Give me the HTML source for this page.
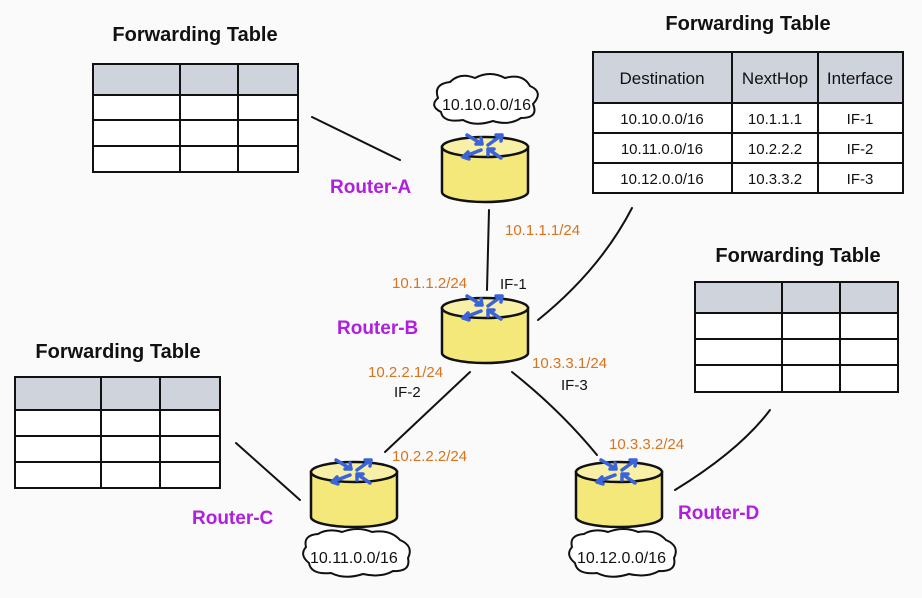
<!DOCTYPE html>
<html><head><meta charset="utf-8"><style>
body{margin:0;background:#fafafa;}
svg{display:block;font-family:"Liberation Sans",sans-serif;}
</style></head><body>
<svg width="922" height="598" viewBox="0 0 922 598" xmlns="http://www.w3.org/2000/svg">
<defs>
<g id="rt">
<path d="M-43,0 L-43,45 A43,10 0 0 0 43,45 L43,0 Z" fill="#f5e87a" stroke="#111" stroke-width="2.5"/>
<ellipse cx="0" cy="0" rx="43" ry="10" fill="#f8f0a6" stroke="#111" stroke-width="2.5"/>
<g stroke="#3a64d8" stroke-width="3.5" fill="none" stroke-linecap="round">
<path d="M-18,-12 L-3,-3 M-3,-3 l-6,0 M-3,-3 l-1,-6"/>
<path d="M3,-2 L17,-12 M17,-12 l-6,0 M17,-12 l-1,6"/>
<path d="M-4,3 L-22,10 M-22,10 l5,-5 M-22,10 l6,2"/>
<path d="M3,2 L16,11 M3,2 l6,0 M3,2 l0,6"/>
</g>
</g>
</defs>
<g fill="#fff" stroke="#111" stroke-width="2">
<rect x="93" y="64" width="205" height="31" fill="#cfd3dc"/>
<rect x="93" y="95" width="205" height="77"/>
<path d="M93,120H298M93,146H298M180,64V172M238,64V172" fill="none"/>
<rect x="15" y="377" width="205" height="33" fill="#cfd3dc"/>
<rect x="15" y="410" width="205" height="78"/>
<path d="M15,436H220M15,462H220M101,377V488M160,377V488" fill="none"/>
<rect x="695" y="282" width="203" height="31" fill="#cfd3dc"/>
<rect x="695" y="313" width="203" height="79"/>
<path d="M695,339H898M695,365H898M782,282V392M840,282V392" fill="none"/>
<rect x="593" y="52" width="310" height="51" fill="#cfd3dc"/>
<rect x="593" y="103" width="310" height="90"/>
<path d="M593,133H903M593,163H903M732,52V193M818,52V193" fill="none"/>
</g>
<g font-size="17" text-anchor="middle" fill="#111">
<text x="662" y="84">Destination</text><text x="775" y="84">NextHop</text><text x="860" y="84">Interface</text>
<text x="662" y="124" font-size="15">10.10.0.0/16</text><text x="775" y="124" font-size="15">10.1.1.1</text><text x="860" y="124" font-size="15">IF-1</text>
<text x="662" y="154" font-size="15">10.11.0.0/16</text><text x="775" y="154" font-size="15">10.2.2.2</text><text x="860" y="154" font-size="15">IF-2</text>
<text x="662" y="184" font-size="15">10.12.0.0/16</text><text x="775" y="184" font-size="15">10.3.3.2</text><text x="860" y="184" font-size="15">IF-3</text>
</g>
<g font-size="20" font-weight="bold" fill="#111" text-anchor="middle">
<text x="195" y="41">Forwarding Table</text>
<text x="748" y="30">Forwarding Table</text>
<text x="798" y="262">Forwarding Table</text>
<text x="118" y="358">Forwarding Table</text>
</g>
<g stroke="#111" stroke-width="2" fill="none" stroke-linecap="round">
<path d="M312,117 L400,160"/>
<path d="M489,210 L487,290"/>
<path d="M538,320 Q600,270 632,208"/>
<path d="M470,372 L385,452"/>
<path d="M512,372 Q560,410 597,455"/>
<path d="M236,443 L300,500"/>
<path d="M675,490 Q740,450 770,410"/>
</g>
<g fill="#fff" stroke="#111" stroke-width="2">
<path d="M438,98 q-5,-14 12,-16 q10,-10 25,-4 q15,-8 30,0 q18,-5 25,8 q14,6 3,18 q6,14 -12,14 q-12,8 -28,3 q-18,6 -30,-1 q-20,3 -22,-8 q-12,-6 -3,-14Z"/>
<path d="M306,547 q-3,-12 12,-13 q10,-6 24,-2 q16,-6 30,0 q18,-3 28,8 q14,6 8,18 q3,14 -15,13 q-12,7 -30,3 q-18,6 -32,-1 q-20,2 -22,-10 q-10,-8 -3,-16Z"/>
<path d="M572,547 q-3,-12 12,-13 q10,-6 24,-2 q16,-6 30,0 q18,-3 28,8 q14,6 8,18 q3,14 -15,13 q-12,7 -30,3 q-18,6 -32,-1 q-20,2 -22,-10 q-10,-8 -3,-16Z"/>
</g>
<g font-size="16" fill="#111">
<text x="442" y="110">10.10.0.0/16</text>
<text x="310" y="563">10.11.0.0/16</text>
<text x="577" y="563">10.12.0.0/16</text>
<text x="500" y="289" font-size="15">IF-1</text>
<text x="394" y="397" font-size="15">IF-2</text>
<text x="561" y="390" font-size="15">IF-3</text>
</g>
<use href="#rt" x="485" y="147"/>
<use href="#rt" x="485" y="308"/>
<use href="#rt" x="354" y="472"/>
<use href="#rt" x="619" y="472"/>
<g font-size="19" font-weight="bold" fill="#b01ee0">
<text x="330" y="193">Router-A</text>
<text x="337" y="334">Router-B</text>
<text x="192" y="524">Router-C</text>
<text x="678" y="519">Router-D</text>
</g>
<g font-size="15" fill="#d8731e">
<text x="505" y="235">10.1.1.1/24</text>
<text x="392" y="288">10.1.1.2/24</text>
<text x="368" y="377">10.2.2.1/24</text>
<text x="532" y="368">10.3.3.1/24</text>
<text x="392" y="461">10.2.2.2/24</text>
<text x="609" y="449">10.3.3.2/24</text>
</g>
</svg>
</body></html>
